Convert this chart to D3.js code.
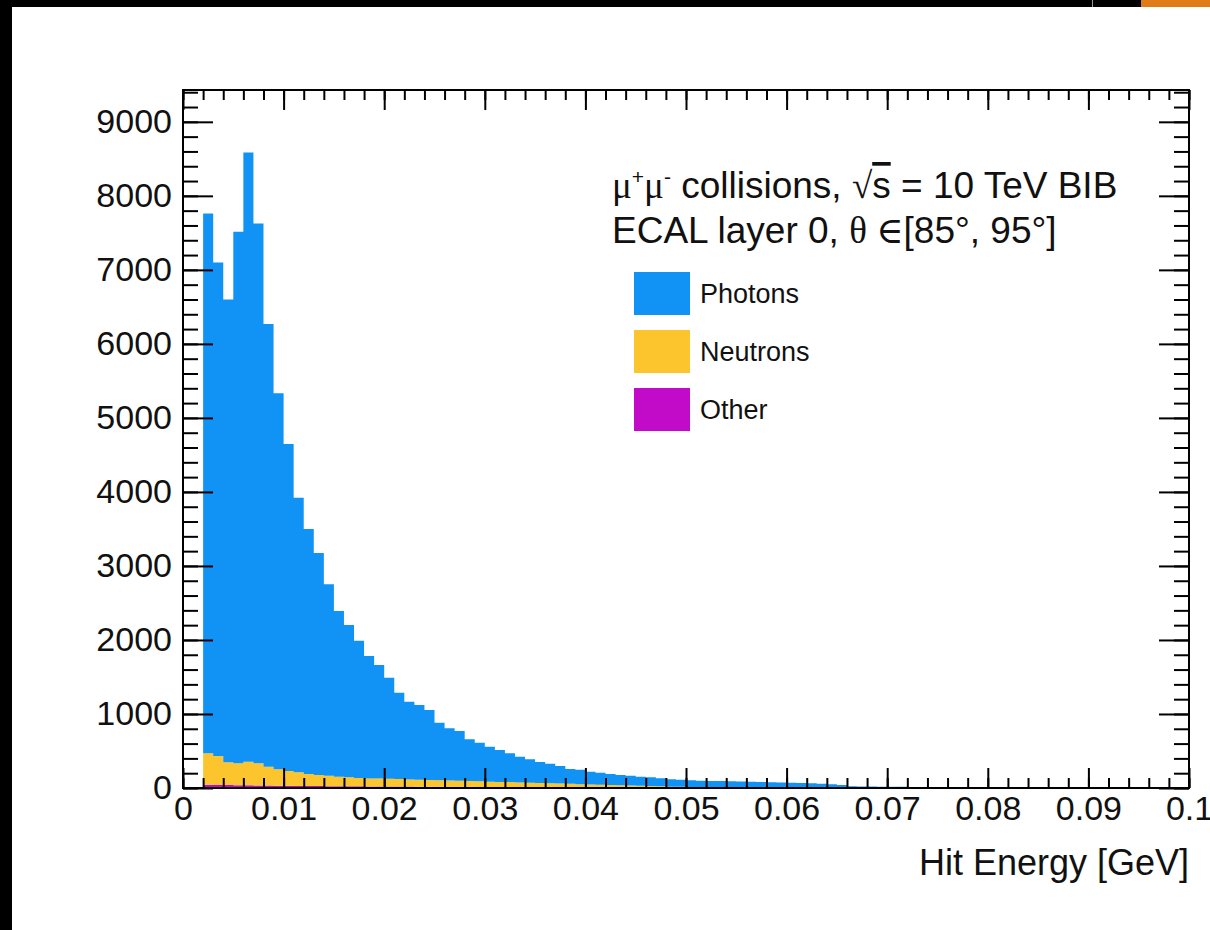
<!DOCTYPE html>
<html>
<head>
<meta charset="utf-8">
<script src="https://cdn.jsdelivr.net/npm/d3@7.9.0/dist/d3.min.js"></script>
<style>
  body { margin: 0; background: #fff; }
  svg { display: block; font-family: "Liberation Sans", Arial, sans-serif; }
</style>
</head>
<body>
<svg id="chart" width="1210" height="930"></svg>
<script>
// histogram: 100 bins of 0.001 GeV from 0 to 0.1
const binWidth = 0.001;
const xRange = [0, 0.1];

const photons = [
  0, 0,
  7294, 6669, 6254, 7181, 8232, 7294, 5980, 5079, 4417, 3709,
  3310, 2998, 2586, 2238, 2057, 1855, 1653, 1534, 1365, 1167,
  1051, 1011, 946, 778, 706, 673, 564, 522, 473, 431,
  389, 347, 316, 283, 264, 237, 201, 195, 172, 163,
  149, 140, 133, 123, 119, 109, 100, 96, 90, 86,
  84, 82, 80, 78, 75, 72, 70, 68, 65, 62,
  58, 52, 45, 36, 18, 16, 15, 14, 13, 12,
  11, 10, 10, 9, 9, 8, 8, 7, 7, 6,
  6, 6, 5, 5, 5, 4, 4, 4, 4, 3,
  3, 3, 3, 3, 2, 2, 2, 2
];
const neutrons = [
  0, 0,
  424, 390, 307, 296, 319, 299, 255, 222, 200, 184,
  162, 150, 141, 129, 122, 113, 109, 107, 105, 101,
  96, 92, 90, 87, 83, 81, 78, 75, 70, 68,
  66, 63, 59, 56, 52, 49, 45, 42, 38, 35,
  31, 27, 25, 22, 18, 15, 11, 10, 8, 7,
  6, 6, 5, 5, 4, 4, 4, 3, 3, 3,
  3, 2, 2, 2, 2, 2, 2, 1, 1, 1,
  1, 1, 1, 1, 1, 1, 1, 1, 0, 0,
  0, 0, 0, 0, 0, 0, 0, 0, 0, 0,
  0, 0, 0, 0, 0, 0, 0, 0
];
const other = [
  0, 0,
  45, 42, 40, 38, 36, 35, 33, 31, 30, 28,
  27, 26, 25, 24, 23, 22, 21, 21, 20, 19,
  19, 18, 18, 17, 17, 16, 16, 15, 15, 14,
  14, 13, 13, 12, 12, 11, 11, 10, 10, 9,
  9, 9, 8, 8, 8, 7, 7, 7, 6, 6,
  6, 5, 5, 5, 5, 5, 4, 4, 4, 4,
  4, 4, 3, 3, 3, 3, 3, 3, 3, 3,
  3, 2, 2, 2, 2, 2, 2, 2, 2, 2,
  2, 2, 2, 2, 2, 1, 1, 1, 1, 1,
  1, 1, 1, 1, 1, 1, 1, 1
];

const stackKeys = ['other', 'neutrons', 'photons'];
const colors = { photons: '#1193f5', neutrons: '#fdc52d', other: '#c20bc8' };
const legendItems = [
  { key: 'photons', label: 'Photons' },
  { key: 'neutrons', label: 'Neutrons' },
  { key: 'other', label: 'Other' }
];

const xMajor = [0, 0.01, 0.02, 0.03, 0.04, 0.05, 0.06, 0.07, 0.08, 0.09, 0.1];
const xLabels = ['0', '0.01', '0.02', '0.03', '0.04', '0.05', '0.06', '0.07', '0.08', '0.09', '0.1'];
const yMajor = [0, 1000, 2000, 3000, 4000, 5000, 6000, 7000, 8000, 9000];
const yMax = 9430;

const frame = { left: 183, right: 1189, top: 90, bottom: 788 };

const svg = d3.select('#chart');

const x = d3.scaleLinear().domain(xRange).range([frame.left, frame.right]);
const y = d3.scaleLinear().domain([0, yMax]).range([frame.bottom, frame.top]);

// screenshot edges
svg.append('rect').attr('x', 0).attr('y', 0).attr('width', 1210).attr('height', 7).attr('fill', '#000');
svg.append('rect').attr('x', 0).attr('y', 0).attr('width', 12).attr('height', 930).attr('fill', '#000');
svg.append('rect').attr('x', 1141).attr('y', 0).attr('width', 69).attr('height', 7).attr('fill', '#e07b17');
svg.append('rect').attr('x', 1092).attr('y', 0).attr('width', 1).attr('height', 7).attr('fill', '#999');

// stacked histogram
const rows = photons.map((p, i) => ({
  x: i * binWidth, photons: p, neutrons: neutrons[i], other: other[i]
}));
rows.push({ ...rows[rows.length - 1], x: xRange[1] });

const layers = d3.stack().keys(stackKeys)(rows);
const area = d3.area()
  .x(d => x(d.data.x))
  .y0(d => y(d[0]))
  .y1(d => y(d[1]))
  .curve(d3.curveStepAfter);

svg.append('g').selectAll('path')
  .data(layers)
  .join('path')
  .attr('d', area)
  .attr('fill', d => colors[d.key]);

// axes, ROOT style: ticks inside the frame
const xMinor = d3.range(0, 51).map(i => i * 0.002);
const yMinor = d3.range(0, 48).map(i => i * 200);

function styleAxis(g) {
  g.select('.domain').remove();
  g.selectAll('line').attr('stroke', '#000').attr('stroke-width', 2);
}

svg.append('g')
  .attr('transform', `translate(0,${frame.bottom})`)
  .call(d3.axisBottom(x).tickValues(xMinor).tickSize(-10).tickFormat(''))
  .call(styleAxis);
svg.append('g')
  .attr('transform', `translate(0,${frame.bottom})`)
  .call(d3.axisBottom(x).tickValues(xMajor).tickSize(-20).tickPadding(8)
    .tickFormat((d, i) => xLabels[i]))
  .call(styleAxis)
  .call(g => g.selectAll('text').attr('font-size', 34).attr('fill', '#111')
    .attr('font-family', '"Liberation Sans", Arial, sans-serif'));

svg.append('g')
  .attr('transform', `translate(0,${frame.top})`)
  .call(d3.axisTop(x).tickValues(xMinor).tickSize(-10).tickFormat(''))
  .call(styleAxis);
svg.append('g')
  .attr('transform', `translate(0,${frame.top})`)
  .call(d3.axisTop(x).tickValues(xMajor).tickSize(-20).tickFormat(''))
  .call(styleAxis);

svg.append('g')
  .attr('transform', `translate(${frame.left},0)`)
  .call(d3.axisLeft(y).tickValues(yMinor).tickSize(-15).tickFormat(''))
  .call(styleAxis);
svg.append('g')
  .attr('transform', `translate(${frame.left},0)`)
  .call(d3.axisLeft(y).tickValues(yMajor).tickSize(-30).tickPadding(11).tickFormat(d3.format('d')))
  .call(styleAxis)
  .call(g => g.selectAll('text').attr('font-size', 34).attr('fill', '#111')
    .attr('font-family', '"Liberation Sans", Arial, sans-serif'));

svg.append('g')
  .attr('transform', `translate(${frame.right},0)`)
  .call(d3.axisRight(y).tickValues(yMinor).tickSize(-15).tickFormat(''))
  .call(styleAxis);
svg.append('g')
  .attr('transform', `translate(${frame.right},0)`)
  .call(d3.axisRight(y).tickValues(yMajor).tickSize(-30).tickFormat(''))
  .call(styleAxis);

// frame
svg.append('rect')
  .attr('x', frame.left).attr('y', frame.top)
  .attr('width', frame.right - frame.left).attr('height', frame.bottom - frame.top)
  .attr('fill', 'none').attr('stroke', '#000').attr('stroke-width', 2);

// axis title
svg.append('text')
  .attr('x', frame.right).attr('y', 875)
  .attr('text-anchor', 'end')
  .attr('font-size', 36).attr('fill', '#111')
  .text('Hit Energy [GeV]');

// header text
const serif = '"Liberation Serif", "DejaVu Serif", serif';
const t1 = svg.append('text').attr('x', 612).attr('y', 198).attr('font-size', 37).attr('fill', '#111');
t1.append('tspan').attr('font-family', serif).text('μ');
t1.append('tspan').attr('font-size', 21).attr('dy', -14).text('+');
t1.append('tspan').attr('font-family', serif).attr('dy', 14).text('μ');
t1.append('tspan').attr('font-size', 21).attr('dy', -14).text('-');
t1.append('tspan').attr('dy', 14).text(' collisions,  ');
t1.append('tspan').attr('font-family', serif).text('√');
t1.append('tspan').style('text-decoration', 'overline').text('s');
t1.append('tspan').text(' = 10 TeV BIB');

const t2 = svg.append('text').attr('x', 612).attr('y', 243).attr('font-size', 37).attr('fill', '#111');
t2.append('tspan').text('ECAL layer 0, ');
t2.append('tspan').attr('font-family', serif).text('θ ∈');
t2.append('tspan').text('[85°, 95°]');

// legend
const legend = svg.append('g').selectAll('g')
  .data(legendItems)
  .join('g')
  .attr('transform', (d, i) => `translate(634,${272 + i * 58})`);
legend.append('rect')
  .attr('width', 56).attr('height', 43)
  .attr('fill', d => colors[d.key]);
legend.append('text')
  .attr('x', 66).attr('y', 31)
  .attr('font-size', 27).attr('fill', '#111')
  .text(d => d.label);
</script>
</body>
</html>
